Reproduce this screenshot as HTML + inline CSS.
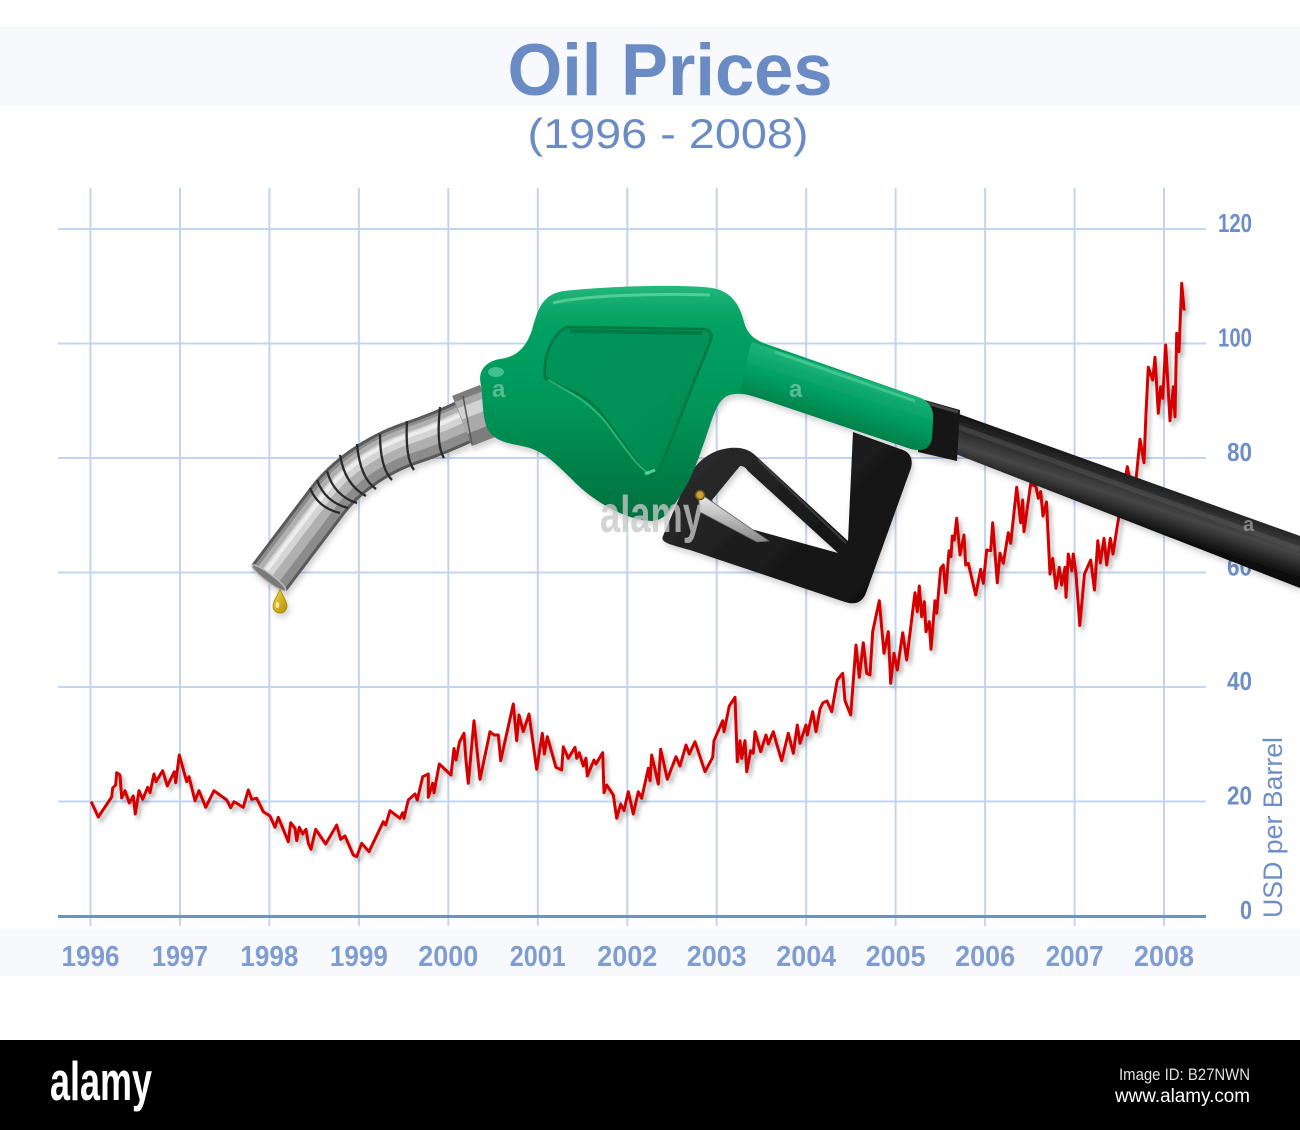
<!DOCTYPE html>
<html><head><meta charset="utf-8">
<style>
html,body{margin:0;padding:0;background:#fff;}
svg{display:block;}
</style></head>
<body>
<svg width="1300" height="1130" viewBox="0 0 1300 1130" xmlns="http://www.w3.org/2000/svg" font-family="'Liberation Sans', sans-serif">
<defs>
  <filter id="sh" x="-5%" y="-5%" width="110%" height="115%">
    <feDropShadow dx="3" dy="4" stdDeviation="2" flood-color="#000" flood-opacity="0.28"/>
  </filter>
  <filter id="sh2" x="-10%" y="-10%" width="120%" height="130%">
    <feDropShadow dx="2" dy="4" stdDeviation="3" flood-color="#000" flood-opacity="0.18"/>
  </filter>
  <linearGradient id="hoseG" gradientUnits="userSpaceOnUse" x1="1106" y1="462" x2="1090" y2="512">
    <stop offset="0" stop-color="#161616"/>
    <stop offset="0.3" stop-color="#2e2e2e"/>
    <stop offset="0.55" stop-color="#474747"/>
    <stop offset="0.8" stop-color="#262626"/>
    <stop offset="1" stop-color="#0c0c0c"/>
  </linearGradient>
  <linearGradient id="greenG" gradientUnits="userSpaceOnUse" x1="0" y1="286" x2="0" y2="525">
    <stop offset="0" stop-color="#24b87a"/>
    <stop offset="0.12" stop-color="#07a365"/>
    <stop offset="0.5" stop-color="#009658"/>
    <stop offset="1" stop-color="#006e3c"/>
  </linearGradient>
  <linearGradient id="panelG" gradientUnits="userSpaceOnUse" x1="560" y1="330" x2="690" y2="470">
    <stop offset="0" stop-color="#05935a"/>
    <stop offset="0.6" stop-color="#029257"/>
    <stop offset="1" stop-color="#00854c"/>
  </linearGradient>
  <linearGradient id="armG" gradientUnits="userSpaceOnUse" x1="850" y1="372" x2="832" y2="430">
    <stop offset="0" stop-color="#1eb578"/>
    <stop offset="0.45" stop-color="#00a062"/>
    <stop offset="1" stop-color="#007a44"/>
  </linearGradient>
  <linearGradient id="guardG" gradientUnits="userSpaceOnUse" x1="700" y1="440" x2="860" y2="600">
    <stop offset="0" stop-color="#2c2c2c"/>
    <stop offset="0.5" stop-color="#1c1c1c"/>
    <stop offset="1" stop-color="#111"/>
  </linearGradient>
  <linearGradient id="dropG" x1="0" y1="0" x2="1" y2="1">
    <stop offset="0" stop-color="#f5dc50"/>
    <stop offset="1" stop-color="#b38b00"/>
  </linearGradient>
  <linearGradient id="leverG" x1="0" y1="0" x2="0" y2="1">
    <stop offset="0" stop-color="#f0f0f0"/>
    <stop offset="1" stop-color="#8a8a8a"/>
  </linearGradient>
  <path id="spout" d="M 269,578 L 328,500 C 345,478 375,455 411,443 S 455,425 478,416"/>
</defs>

<rect width="1300" height="1130" fill="#fff"/>
<rect x="0" y="27" width="1300" height="79" fill="#f7f9fd"/>
<rect x="0" y="929" width="1300" height="47" fill="#f7f9fd"/>
<rect x="0" y="1040" width="1300" height="90" fill="#000"/>

<!-- title -->
<text x="670" y="95" font-size="73" font-weight="bold" fill="#6a8bc3" text-anchor="middle" textLength="325" lengthAdjust="spacingAndGlyphs">Oil Prices</text>
<text x="668" y="148" font-size="42" fill="#6a8bc3" text-anchor="middle" textLength="281" lengthAdjust="spacingAndGlyphs">(1996 - 2008)</text>

<!-- grid -->
<g stroke="#c3d4f1" stroke-width="2">
  <line x1="90.5" y1="188" x2="90.5" y2="926"/>
  <line x1="180" y1="188" x2="180" y2="926"/>
  <line x1="269.4" y1="188" x2="269.4" y2="926"/>
  <line x1="358.9" y1="188" x2="358.9" y2="926"/>
  <line x1="448.3" y1="188" x2="448.3" y2="926"/>
  <line x1="537.8" y1="188" x2="537.8" y2="926"/>
  <line x1="627.3" y1="188" x2="627.3" y2="926"/>
  <line x1="716.7" y1="188" x2="716.7" y2="926"/>
  <line x1="806.2" y1="188" x2="806.2" y2="926"/>
  <line x1="895.6" y1="188" x2="895.6" y2="926"/>
  <line x1="985.1" y1="188" x2="985.1" y2="926"/>
  <line x1="1074.6" y1="188" x2="1074.6" y2="926"/>
  <line x1="1164" y1="188" x2="1164" y2="926"/>
  <line x1="58" y1="229" x2="1206" y2="229"/>
  <line x1="58" y1="343.5" x2="1206" y2="343.5"/>
  <line x1="58" y1="458" x2="1206" y2="458"/>
  <line x1="58" y1="572.5" x2="1206" y2="572.5"/>
  <line x1="58" y1="687" x2="1206" y2="687"/>
  <line x1="58" y1="801.5" x2="1206" y2="801.5"/>
</g>
<line x1="58" y1="916.5" x2="1206" y2="916.5" stroke="#6f90c8" stroke-width="3"/>

<!-- y labels -->
<g font-size="26" font-weight="bold" fill="#6d8ec6" text-anchor="end">
  <text x="1252" y="232" textLength="34" lengthAdjust="spacingAndGlyphs">120</text>
  <text x="1252" y="346.5" textLength="34" lengthAdjust="spacingAndGlyphs">100</text>
  <text x="1252" y="461" textLength="25" lengthAdjust="spacingAndGlyphs">80</text>
  <text x="1252" y="575.5" textLength="25" lengthAdjust="spacingAndGlyphs">60</text>
  <text x="1252" y="690" textLength="25" lengthAdjust="spacingAndGlyphs">40</text>
  <text x="1252" y="804.5" textLength="25" lengthAdjust="spacingAndGlyphs">20</text>
  <text x="1252" y="919" textLength="12" lengthAdjust="spacingAndGlyphs">0</text>
</g>
<text transform="translate(1282,918) rotate(-90)" font-size="27" fill="#6d8ec6" textLength="181" lengthAdjust="spacingAndGlyphs">USD per Barrel</text>

<!-- x labels -->
<g font-size="29" font-weight="bold" fill="#7f9dd0" text-anchor="middle">
  <text x="90.5" y="966" textLength="58" lengthAdjust="spacingAndGlyphs">1996</text>
  <text x="180" y="966" textLength="56" lengthAdjust="spacingAndGlyphs">1997</text>
  <text x="269.4" y="966" textLength="58" lengthAdjust="spacingAndGlyphs">1998</text>
  <text x="358.9" y="966" textLength="58" lengthAdjust="spacingAndGlyphs">1999</text>
  <text x="448.3" y="966" textLength="60" lengthAdjust="spacingAndGlyphs">2000</text>
  <text x="537.8" y="966" textLength="56" lengthAdjust="spacingAndGlyphs">2001</text>
  <text x="627.3" y="966" textLength="60" lengthAdjust="spacingAndGlyphs">2002</text>
  <text x="716.7" y="966" textLength="60" lengthAdjust="spacingAndGlyphs">2003</text>
  <text x="806.2" y="966" textLength="60" lengthAdjust="spacingAndGlyphs">2004</text>
  <text x="895.6" y="966" textLength="60" lengthAdjust="spacingAndGlyphs">2005</text>
  <text x="985.1" y="966" textLength="60" lengthAdjust="spacingAndGlyphs">2006</text>
  <text x="1074.6" y="966" textLength="58" lengthAdjust="spacingAndGlyphs">2007</text>
  <text x="1164" y="966" textLength="60" lengthAdjust="spacingAndGlyphs">2008</text>
</g>

<!-- price line -->
<polyline filter="url(#sh)" fill="none" stroke="#d40000" stroke-width="3" stroke-linejoin="round" stroke-linecap="round" points="
91.7,802.7 98.3,817 111.7,797 112.7,788 115.7,785 116.7,772.7 120,775 121.7,798 125,790.7 129.3,803 133.3,796 135.3,814 139,790.7 142.7,799.3 147.7,787.3 150,792.7 154,774 156,781.7 162.7,770.7 167.3,786 174.3,771.7 175.7,782.7 179.3,755 186.7,781.7 189,776.7 195,800.7 199,790.7 205.7,807.3 214,790.7 226.7,800 230.7,807.7 234,801.7 243.3,807.3 248.3,790 251.7,799.3 256.7,798.3 263.3,811.7 270,816 275,827.3 278.3,817.3 288.3,841.7 290.7,822.7 295,828.3 296.7,840.7 299.3,827.3 302.7,834 306,829.3 308.3,843.3 311,849.3 315.7,829.3 325.7,844 336.7,825 340.7,839.3 345,836 353.3,855 356.7,856.7 361.7,843.3 369,851.7 383.3,821.7 385.7,825 390,810.7 400,818.3 402.7,812.7 404,818.3 408.3,800 415,794 417.3,800 422.7,776.7 428.3,774 428.3,797.3 432.7,783.3 434,792.7 439.3,764 451,775 454,748.5 456,760 459.5,742 464,733.3 466,760.7 468.3,783.3 474,720.7 480,779.3 490,731.7 494,735 498.3,735 500.7,760.7 513.3,704 516.7,740.7 519,715 523.3,731.7 529,714 536.7,769.3 542.3,733.3 544.3,754 547.3,736.7 556,767.3 561.7,770 563.3,746.7 568.3,758.3 575,747.3 576.7,758.3 579.3,752.7 583.3,766 586,758.3 587.3,776 594,760 596,764 602.7,752.7 604,792.7 606.7,785 613.3,795 616.7,818.3 620.7,804 624,810.7 628.3,791.7 633.3,814 638.3,791.7 641.7,798.3 648.3,768.3 650,780.7 651.7,755 658.3,784 660.7,749.3 667.3,779.3 676,756.7 680,766 686,745 689.3,754 695,741.7 705,771.7 712.7,757.3 714,740.7 722.7,720.7 724,731.7 729.3,706 735,697.3 737.3,761.7 740,740.7 741.7,758.3 745,740.7 746.7,771.7 750.7,750.7 753.3,753.3 755,731.7 760.7,751.7 766,735 768.3,744 773.3,731.7 776.7,744 781.7,760.7 788.3,733.3 793.3,753.3 797.3,725 800,743.3 806,725 807.3,735 812.7,711.7 816,731.7 820,709 823,702.7 827,701 831.7,711.7 837.3,680 842.7,673.3 845,700.7 850.7,715 856,645 859.3,677.3 863.3,642.7 866.7,673.3 870,675 872.7,631.7 879.3,600.7 884,653.3 888.3,631.7 890.7,683.3 894,653.3 897.3,670 902.7,632.7 906.7,660 915,592.7 917.3,611.7 919.3,586 921.7,616.7 924.3,601.7 926,631.7 929.3,621.7 931,649.3 935,600.7 936.7,613.3 940.7,568.3 943.3,565 945.7,592.7 949,550.7 951,556.7 952.3,536 954.3,540 956.7,518.3 960,555 964,535 965.7,565 968.3,563.3 975.7,595 980.7,569.3 983.3,583.3 986.7,550 990.7,550.7 992.7,522.7 997.3,582.7 1000,553.3 1003.3,563.3 1008.3,532.7 1010.7,543.3 1016.7,487.3 1020.7,522.7 1022.7,500 1024,531.7 1030.7,484 1036,486.7 1038.3,498.3 1040.7,491.7 1043,516 1046.5,502 1050,574 1052.7,558.3 1056,588.3 1059.3,567.3 1061.7,585 1065,567.3 1066,597.3 1068.3,554 1071.7,570.7 1073.3,554 1076,574 1079.8,625.5 1084.5,574 1090.7,560 1094.5,590 1097.8,540.7 1100.3,563 1104,538.3 1106.7,565 1110.3,538.3 1113,554 1117.3,526 1120,510 1127.3,466.7 1129.3,476.7 1136,480 1140,439.3 1144,462.7 1146,413.3 1148.3,367.3 1152.7,380 1155,357.3 1158.3,413.3 1160.7,386.7 1162.7,398.3 1165.7,345 1170,420.7 1173.3,386.7 1175,416.7 1176.7,333.3 1179,351.7 1181.7,283.3 1184,309.3"/>

<!-- ===== nozzle ===== -->
<g filter="url(#sh2)">
  <!-- hose -->
  <path d="M 945,409 L 1300,536 L 1300,588 L 935,446 Z" fill="url(#hoseG)"/>
  <path d="M 950,424 L 1300,549" stroke="#5a5a5a" stroke-width="5" opacity="0.45" fill="none"/>
  <!-- hose collar -->
  <path d="M 921,399 L 960,410 L 957,461 L 918,452 Z" fill="#141414"/>
  <path d="M 923,402 L 958,412" stroke="#444" stroke-width="3" fill="none"/>

  <!-- trigger guard -->
  <path fill-rule="evenodd" fill="url(#guardG)" d="M 663,536 L 686,482 C 695,462 710,450 730,448 C 742,447 750,450 756,456 L 848,541 L 853,432 L 903,450 C 911,453 913,460 911,468 L 866,593 C 862,603 855,605 845,602 L 690,550 C 668,544 660,542 663,536 Z
     M 740,466 C 744,466 746,468 748,471 L 838,553 L 722,521 L 712,500 Z"/>
  <path d="M 758,460 L 846,543" stroke="#4a4a4a" stroke-width="2" fill="none" opacity="0.7"/>
  <!-- lever -->
  <path d="M 698,492 L 769,541 L 757,542 L 700,512 Z" fill="url(#leverG)" stroke="#666" stroke-width="0.8"/>
  <circle cx="700" cy="495" r="4.5" fill="#c9a23e" stroke="#6b5310" stroke-width="1.5"/>

  <!-- spout -->
  <use href="#spout" fill="none" stroke="#5a5a5a" stroke-width="44"/>
  <use href="#spout" fill="none" stroke="#8c8c8c" stroke-width="38"/>
  <use href="#spout" fill="none" stroke="#b0b0b0" stroke-width="26" transform="translate(-1,-3)"/>
  <use href="#spout" fill="none" stroke="#d4d4d4" stroke-width="12" transform="translate(-2,-5)"/>
  <use href="#spout" fill="none" stroke="#ececec" stroke-width="4" transform="translate(-3,-7)"/>
  <ellipse cx="269" cy="578" rx="21" ry="4" transform="rotate(37 269 578)" fill="#7a7a7a" stroke="#bdbdbd" stroke-width="1.5"/>
  <!-- coils -->
  <g fill="none" stroke="#2b2b2b" stroke-width="2.3">
    <path d="M 310,488 Q 318,508 340,513"/>
    <path d="M 317,480 Q 325,502 348,508"/>
    <path d="M 327,471 Q 334,496 357,503"/>
    <path d="M 340,455 Q 345,485 366,496"/>
    <path d="M 357,444 Q 360,478 376,489"/>
    <path d="M 380,434 Q 380,468 392,480"/>
    <path d="M 407,421 Q 405,458 414,470"/>
    <path d="M 440,407 Q 436,446 444,458"/>
  </g>
  <!-- spout collar -->
  <path d="M 462,421 L 490,410" stroke="#7c7c7c" stroke-width="54" fill="none"/>
  <path d="M 461,418 L 489,407" stroke="#a9a9a9" stroke-width="34" fill="none"/>
  <path d="M 460,414 L 488,403" stroke="#d2d2d2" stroke-width="12" fill="none"/>
  <path d="M 472,444 L 463,396" stroke="#555" stroke-width="1.5" fill="none"/>

  <!-- green body -->
  <path fill="url(#greenG)" d="M 481,385 C 477,370 487,361 500,359 C 516,357 526,348 532,330 C 538,308 543,294 564,291 C 610,286 680,284 712,288 C 732,291 740,306 744,322 C 748,336 756,341 772,346 L 918,397 C 930,401 934,410 933,420 L 932,437 C 931,448 924,452 911,449 L 762,399 C 748,394 736,392 727,396 C 716,402 712,420 705,440 C 698,460 692,478 680,496 C 670,512 664,520 652,521 C 628,520 602,506 582,489 C 562,471 548,452 526,447 C 510,443 495,443 487,428 C 482,415 483,398 481,385 Z"/>
  <!-- arm shading -->
  <path fill="url(#armG)" d="M 752,342 L 918,397 C 930,401 934,410 933,420 L 932,437 C 931,448 924,452 911,449 L 762,399 C 752,396 745,394 740,392 C 745,370 748,352 752,342 Z"/>
  <!-- panel -->
  <path fill="url(#panelG)" stroke="#00773f" stroke-width="2.5" d="M 567,327 L 703,329 C 712,330 713,336 710,342 L 660,468 C 657,475 650,476 645,471 C 625,450 610,420 590,402 C 575,390 555,385 545,378 C 543,360 550,335 567,327 Z"/>
  <path d="M 570,331 L 702,333" stroke="#006b38" stroke-width="4" fill="none" opacity="0.6"/>
  <path d="M 548,380 C 570,392 590,402 608,425 C 625,448 638,468 650,474" stroke="#4ed69b" stroke-width="2" fill="none" opacity="0.55"/>
  <!-- highlights -->
  <path d="M 553,303 C 580,296 650,293 710,295" stroke="#7fe3b8" stroke-width="3" fill="none" opacity="0.55"/>
  <path d="M 775,352 L 915,401" stroke="#7fe3b8" stroke-width="3" fill="none" opacity="0.4"/>
  <ellipse cx="496" cy="372" rx="8" ry="5" fill="#8ef0c5" opacity="0.45"/>
  <path d="M 645,474 L 655,470" stroke="#6ff0b8" stroke-width="3" opacity="0.7"/>

  <!-- drop -->
  <path d="M 280,589 C 283,597 287,601 287,606 A 7,7 0 1 1 273,606 C 273,601 277,597 280,589 Z" fill="url(#dropG)" stroke="#a88300" stroke-width="0.8"/>
  <ellipse cx="277.5" cy="605" rx="1.8" ry="3" fill="#fff8c8" opacity="0.8"/>
</g>

<!-- watermark bits -->
<text x="600" y="532" font-size="52" font-weight="bold" fill="#c8c8c8" fill-opacity="0.78" textLength="103" lengthAdjust="spacingAndGlyphs">alamy</text>
<text x="492" y="397" font-size="24" font-weight="bold" fill="#ffffff" fill-opacity="0.35">a</text>
<text x="789" y="397" font-size="24" font-weight="bold" fill="#ffffff" fill-opacity="0.35">a</text>
<text x="1243" y="531" font-size="20" font-weight="bold" fill="#bbbbbb" fill-opacity="0.6">a</text>

<!-- footer -->
<text x="50" y="1100" font-size="55" font-weight="bold" fill="#fff" textLength="102" lengthAdjust="spacingAndGlyphs">alamy</text>
<text x="1250" y="1080" font-size="17" fill="#e0e0e0" text-anchor="end" textLength="131" lengthAdjust="spacingAndGlyphs">Image ID: B27NWN</text>
<text x="1250" y="1102" font-size="19" fill="#ffffff" text-anchor="end" textLength="135" lengthAdjust="spacingAndGlyphs">www.alamy.com</text>
</svg>
</body></html>
